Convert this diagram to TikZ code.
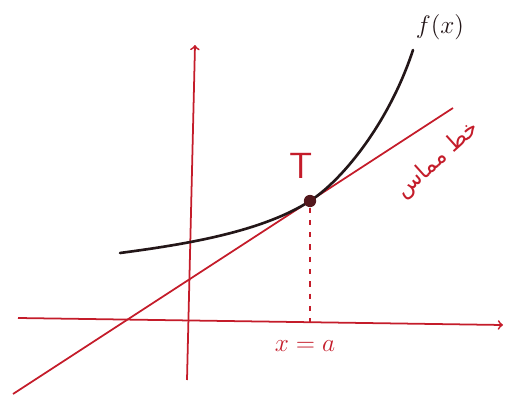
\documentclass[tikz,border=0pt]{standalone}
\usepackage{fontspec}
\newfontfamily\arabicfont[Script=Arabic]{DejaVu Sans}
\TeXXeTstate=1
\definecolor{penred}{RGB}{196,28,42}
\definecolor{penblack}{RGB}{35,22,24}
\tikzset{
    axisline/.style={penred, line width=1pt},
    graphline/.style={penblack, line width=1.5pt, line cap=round},
    redtext/.style={text=penred, inner sep=1pt}
}
\begin{document}
\begin{tikzpicture}[x=0.2mm, y=-0.2mm]
    \useasboundingbox (0,0) rectangle (517,396);

    % Axes
    \coordinate (xstart) at (18,318);
    \coordinate (xend) at (503,325);
    \coordinate (ystart) at (187,380);
    \coordinate (yend) at (195,45);
    \draw[axisline, ->] (xstart) -- (xend);
    \draw[axisline, ->] (ystart) -- (yend);

    % Tangent line
    \coordinate (tstart) at (13,394);
    \coordinate (tend) at (453,108);
    \draw[axisline] (tstart) -- (tend);

    % Curve f(x)
    \draw[graphline] (120,253) .. controls (180,245) and (260,233) .. (310,201)
        .. controls (345,178) and (390,120) .. (413,50);

    % Point of contact
    \node[circle, fill=penblack!70!penred, inner sep=0pt, minimum size=7pt] (touch) at (310,201) {};
    \coordinate (foot) at (310,322);
    \draw[penred, line width=1pt, dash pattern=on 3pt off 4pt] (touch) -- (foot);

    % Labels
    \node[redtext, font=\sffamily\huge] (tlabel) at (301,166) {T};
    \node[redtext, font=\Large] (xa) at (305,346) {$x=a$};
    \node[text=penblack, font=\Large] (fx) at (440,27) {$f(x)$};
    \node[redtext, rotate=42, font=\fontsize{13}{15}\selectfont] (tangentname) at (438,160) {\arabicfont\beginR خط مماس\endR};
\end{tikzpicture}
\end{document}
